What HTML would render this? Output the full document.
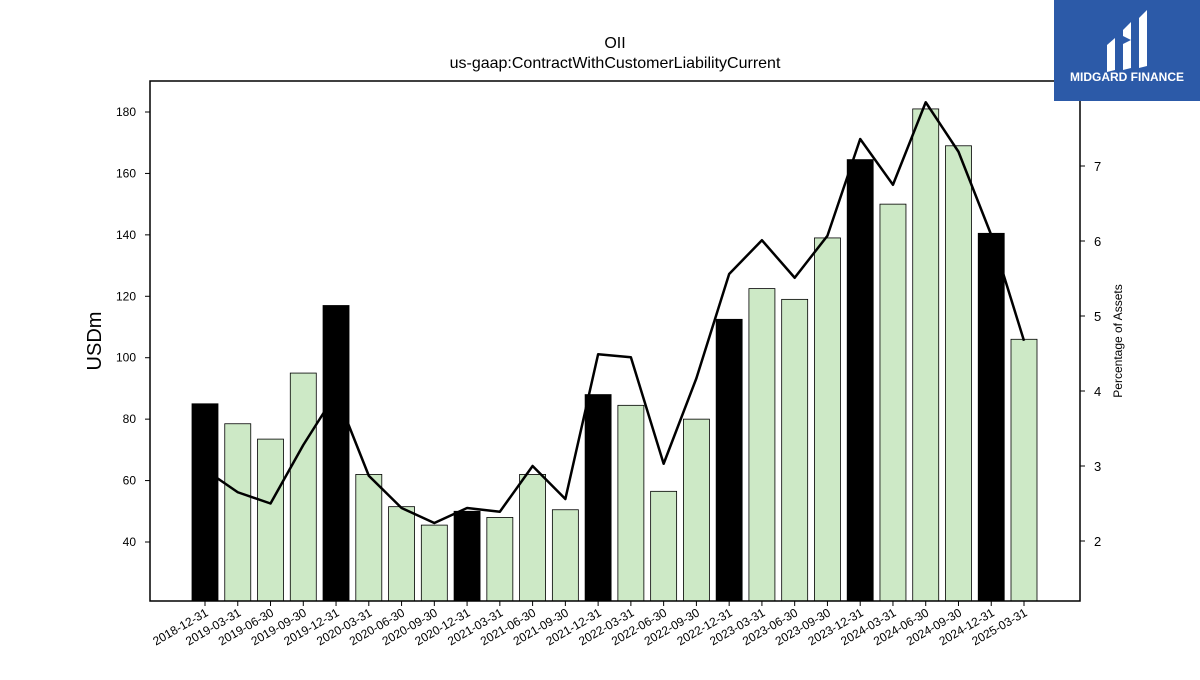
<!DOCTYPE html>
<html><head><meta charset="utf-8"><style>
body{margin:0;background:#fff;font-family:"Liberation Sans",sans-serif}
</style></head><body>
<svg id="chart" width="1200" height="675" xmlns="http://www.w3.org/2000/svg">
<text x="615" y="48" font-size="16" text-anchor="middle">OII</text>
<text x="615" y="68" font-size="16" text-anchor="middle">us-gaap:ContractWithCustomerLiabilityCurrent</text>
<g id="bars"></g>
<g id="line"></g>
<rect x="150" y="81" width="930" height="520" fill="none" stroke="#000" stroke-width="1.5"/>
<g id="axes"></g>
<text transform="translate(101,341) rotate(-90)" font-size="20" text-anchor="middle">USDm</text>
<text transform="translate(1122,341) rotate(-90)" font-size="12" text-anchor="middle">Percentage of Assets</text>
<g>
<rect x="1054" y="0" width="146" height="101" fill="#2c5aa8"/>
<path d="M1107 45 L1115 38 L1115 70 L1107 72 Z" fill="#fff"/>
<path d="M1123 30 L1131 22 L1131 40 L1123 36 Z M1123 44 L1131 40 L1131 68 L1123 70 Z" fill="#fff"/>
<path d="M1139 18 L1147 10 L1147 66 L1139 68 Z" fill="#fff"/>
<text x="1127" y="81" font-size="12" font-weight="bold" fill="#fff" text-anchor="middle">MIDGARD FINANCE</text>
</g>
</svg>
<script>
const categories=["2018-12-31","2019-03-31","2019-06-30","2019-09-30","2019-12-31","2020-03-31","2020-06-30","2020-09-30","2020-12-31","2021-03-31","2021-06-30","2021-09-30","2021-12-31","2022-03-31","2022-06-30","2022-09-30","2022-12-31","2023-03-31","2023-06-30","2023-09-30","2023-12-31","2024-03-31","2024-06-30","2024-09-30","2024-12-31","2025-03-31"];
const barValues=[85,78.5,73.5,95,117,62,51.5,45.5,50,48,62,50.5,88,84.5,56.5,80,112.5,122.5,119,139,164.5,150,181,169,140.5,106];
const pctValues=[2.95,2.65,2.5,3.28,3.97,2.87,2.44,2.24,2.44,2.39,3.0,2.56,4.49,4.45,3.03,4.17,5.56,6.01,5.51,6.07,7.36,6.75,7.85,7.19,6.08,4.67];
const leftTicks=[40,60,80,100,120,140,160,180];
const rightTicks=[2,3,4,5,6,7];
const NS="http://www.w3.org/2000/svg";
const yL=v=>542-(v-40)*(430/140);
const yR=v=>541-(v-2)*75;
const xC=i=>205+i*32.76;
function mk(t,a,p){const e=document.createElementNS(NS,t);for(const k in a)e.setAttribute(k,a[k]);p.appendChild(e);return e;}
const bars=document.getElementById('bars');
barValues.forEach((v,i)=>{
 const y=yL(v);
 const r=mk('rect',{x:xC(i)-13,y:y,width:26,height:601-y,fill:(i%4===0)?'#000':'#cde9c6',stroke:'#000','stroke-width':0.8},bars);
 
 
});
const line=document.getElementById('line');
const pl=mk('polyline',{points:pctValues.map((v,i)=>xC(i)+','+yR(v)).join(' '),fill:'none',stroke:'#000','stroke-width':2.5,'stroke-linejoin':'round'},line);


const ax=document.getElementById('axes');
leftTicks.forEach(v=>{
 mk('line',{x1:145,x2:150,y1:yL(v),y2:yL(v),stroke:'#000'},ax);
 const t=mk('text',{x:136,y:yL(v)+4,'font-size':12,'text-anchor':'end'},ax);t.textContent=v;
 
 
});
rightTicks.forEach(v=>{
 mk('line',{x1:1080,x2:1085,y1:yR(v),y2:yR(v),stroke:'#000'},ax);
 const t=mk('text',{x:1094,y:yR(v)+5,'font-size':13},ax);t.textContent=v;
 
 
});
categories.forEach((c,i)=>{
 const x=xC(i);
 mk('line',{x1:x,x2:x,y1:601,y2:606,stroke:'#000'},ax);
 const t=mk('text',{transform:`translate(${x+4},${615}) rotate(-30)`,'font-size':12,'text-anchor':'end'},ax);t.textContent=c;
 
 
});
</script>
</body></html>
